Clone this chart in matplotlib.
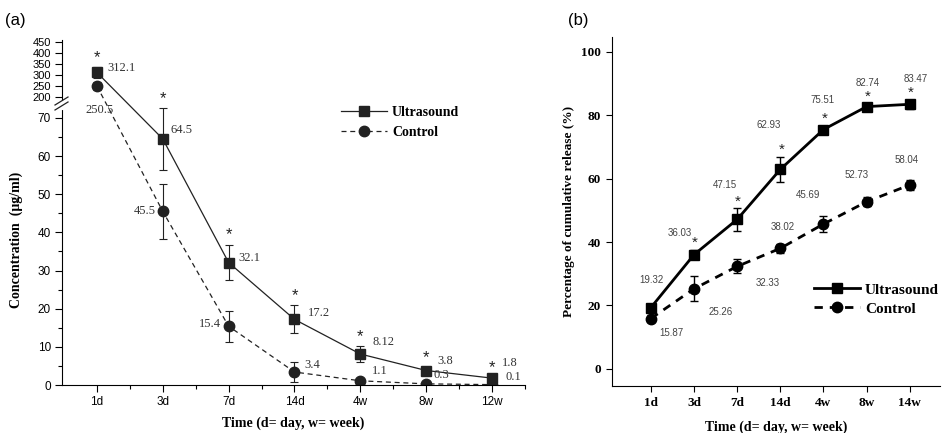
import matplotlib
matplotlib.use("Agg")
import numpy as np
import matplotlib.pyplot as plt
from matplotlib.lines import Line2D

# --- DATA ---
# panel (a): concentration over time
times_a = ["1d", "3d", "7d", "14d", "4w", "8w", "12w"]
us_conc = [312.1, 64.5, 32.1, 17.2, 8.12, 3.8, 1.8]
us_conc_err = [25, 8.2, 4.7, 3.7, 2.0, 0.8, 0.3]
ctl_conc = [250.5, 45.5, 15.4, 3.4, 1.1, 0.3, 0.1]
ctl_conc_err = [20, 7.3, 4.0, 2.6, 0.6, 0.3, 0.2]
us_conc_labels = ["312.1", "64.5", "32.1", "17.2", "8.12", "3.8", "1.8"]
ctl_conc_labels = ["250.5", "45.5", "15.4", "3.4", "1.1", "0.3", "0.1"]

# panel (b): cumulative release
times_b = ["1d", "3d", "7d", "14d", "4w", "8w", "14w"]
us_rel = [19.32, 36.03, 47.15, 62.93, 75.51, 82.74, 83.47]
us_rel_err = [1.0, 1.5, 3.5, 4.0, 1.2, 0.8, 1.5]
ctl_rel = [15.87, 25.26, 32.33, 38.02, 45.69, 52.73, 58.04]
ctl_rel_err = [1.0, 4.0, 2.2, 1.5, 2.5, 1.5, 1.5]
us_star_b = [False, True, True, True, True, True, True]

# label offsets in pixels (layout only)
us_a_off = [(10, 4), (8, 9), (10, 5), (13, 6), (12, 12), (11, 10), (10, 15)]
ctl_a_off = [(3, -24), (-7, 0), (-8, 2), (10, 7), (12, 10), (7, 9), (13, 8)]
ctl_a_ha = ["center", "right", "right", "left", "left", "left", "left"]
us_b_off = [(1, 28), (-14, 22), (-12, 34), (-12, 44), (-1, 30), (1, 24), (6, 25)]
ctl_b_off = [(21, -14), (27, -23), (31, -17), (2, 21), (-15, 29), (-10, 27), (-3, 25)]

serif = "Liberation Serif"
sans = "Liberation Sans"
gray = "#333333"

# broken y scale for panel (a): 0-72.6 linear, gap, then 173-460 compressed
LO_TOP, HI_BOT, GAP, K = 72.6, 173.0, 1.31, 0.05754


def fwd(y):
    y = np.asarray(y, dtype=float)
    mid = LO_TOP + (y - LO_TOP) * GAP / (HI_BOT - LO_TOP)
    hi = LO_TOP + GAP + (y - HI_BOT) * K
    return np.where(y <= LO_TOP, y, np.where(y >= HI_BOT, hi, mid))


def inv(t):
    t = np.asarray(t, dtype=float)
    mid = LO_TOP + (t - LO_TOP) * (HI_BOT - LO_TOP) / GAP
    hi = HI_BOT + (t - LO_TOP - GAP) / K
    return np.where(t <= LO_TOP, t, np.where(t >= LO_TOP + GAP, hi, mid))


fig = plt.figure(figsize=(9.42, 4.33), dpi=100)

# ---------------- panel (a) ----------------
xa = list(range(len(times_a)))
axa = fig.add_axes([62 / 942, 1 - 385 / 433, 463 / 942, 345 / 433])
axa.set_yscale("function", functions=(fwd, inv))
line_kw = dict(color="#222222", lw=0.9, ms=7.5)
axa.plot(xa, us_conc, marker="s", label="Ultrasound", **line_kw)
axa.plot(xa, ctl_conc, marker="o", ls=(0, (4, 3)), label="Control", **line_kw)
for vals, errs in ((us_conc, us_conc_err), (ctl_conc, ctl_conc_err)):
    axa.errorbar(xa, vals, yerr=errs, fmt="none", ecolor="#222222",
                 elinewidth=0.8, capsize=3, capthick=0.8)
axa.spines["top"].set_visible(False)
axa.spines["right"].set_visible(False)
axa.set_xlim(-0.53, 6.5)
axa.set_ylim(0, 460)
axa.set_yticks([0, 10, 20, 30, 40, 50, 60, 70, 200, 250, 300, 350, 400, 450])
axa.set_yticks([5, 15, 25, 35, 45, 55, 65], minor=True)
axa.set_xticks(xa)
axa.set_xticklabels(times_a)
axa.set_xticks([x + 0.5 for x in xa], minor=True)
axa.tick_params(axis="both", which="major", length=5, width=0.8,
                labelsize=8.5, pad=3)
axa.tick_params(axis="both", which="minor", length=3, width=0.8)
for lab in axa.get_xticklabels() + axa.get_yticklabels():
    lab.set_fontfamily(sans)
for lab in axa.get_yticklabels()[8:]:
    lab.set_fontsize(8)

# gap in the spine and break marks (pixels converted to axes fraction)
gap_lo, gap_hi = (385 - 108) / 345, (385 - 103) / 345
axa.add_line(Line2D([0, 0], [gap_lo, gap_hi], transform=axa.transAxes,
                    color="white", lw=3, clip_on=False, zorder=5))
for dy in (0, 5):
    axa.add_line(Line2D([-7 / 463, 6 / 463],
                        [(385 - 110 + dy) / 345, (385 - 102 + dy) / 345],
                        transform=axa.transAxes, color="#222222", lw=0.9,
                        clip_on=False, zorder=6))

axa.set_xlabel("Time (d= day, w= week)", fontfamily=serif,
               fontweight="bold", fontsize=10, labelpad=6)
axa.set_ylabel("Concentration  (\u03bcg/ml)", fontfamily=serif,
               fontweight="bold", fontsize=10)
axa.yaxis.set_label_coords(-0.085, 0.42)

# value labels and stars
for i in xa:
    axa.annotate(us_conc_labels[i], (i, us_conc[i]), xytext=us_a_off[i],
                 textcoords="offset pixels", ha="left", va="center",
                 fontfamily=serif, fontsize=9, color=gray)
    axa.annotate(ctl_conc_labels[i], (i, ctl_conc[i]), xytext=ctl_a_off[i],
                 textcoords="offset pixels", ha=ctl_a_ha[i], va="center",
                 fontfamily=serif, fontsize=9, color=gray)
    axa.annotate("*", (i, us_conc[i] + us_conc_err[i]), xytext=(0, 2),
                 textcoords="offset pixels", ha="center", va="bottom",
                 fontfamily=sans, fontsize=12, color="#222222")

axa.legend(loc="upper left", bbox_to_anchor=(0.575, 0.845), frameon=False,
           prop={"family": serif, "weight": "bold", "size": 10},
           handlelength=3.3, handletextpad=0.4, labelspacing=0.5)

# ---------------- panel (b) ----------------
xb = list(range(len(times_b)))
axb = fig.add_axes([612 / 942, 1 - 386 / 433, 328 / 942, 349 / 433])
axb.plot(xb, us_rel, color="black", lw=2, marker="s", ms=7.5, label="Ultrasound")
axb.plot(xb, ctl_rel, color="black", lw=2, ls=(0, (3, 2.5)), marker="o",
         ms=7.5, label="Control")
for vals, errs in ((us_rel, us_rel_err), (ctl_rel, ctl_rel_err)):
    axb.errorbar(xb, vals, yerr=errs, fmt="none", ecolor="black",
                 elinewidth=1, capsize=3, capthick=1)
axb.spines["top"].set_visible(False)
axb.spines["right"].set_visible(False)
axb.set_xlim(-0.9, 6.7)
axb.set_ylim(-5.4, 104.7)
axb.set_yticks([0, 20, 40, 60, 80, 100])
axb.set_xticks(xb)
axb.set_xticklabels(times_b)
axb.tick_params(axis="both", length=4, width=0.8, labelsize=9.5, pad=4)
for lab in axb.get_xticklabels() + axb.get_yticklabels():
    lab.set_fontfamily(serif)
    lab.set_fontweight("bold")
axb.set_xlabel("Time (d= day, w= week)", fontfamily=serif,
               fontweight="bold", fontsize=10, labelpad=8)
axb.set_ylabel("Percentage of cumulative release (%)", fontfamily=serif,
               fontweight="bold", fontsize=9.5)
axb.yaxis.set_label_coords(-0.112, 0.5)

for i in xb:
    axb.annotate(f"{us_rel[i]:.2f}", (i, us_rel[i]), xytext=us_b_off[i],
                 textcoords="offset pixels", ha="center", va="center",
                 fontfamily=sans, fontsize=7, color="#444444")
    axb.annotate(f"{ctl_rel[i]:.2f}", (i, ctl_rel[i]), xytext=ctl_b_off[i],
                 textcoords="offset pixels", ha="center", va="center",
                 fontfamily=sans, fontsize=7, color="#444444")
    if us_star_b[i]:
        axb.annotate("*", (i, us_rel[i] + us_rel_err[i]), xytext=(1, 0),
                     textcoords="offset pixels", ha="center", va="bottom",
                     fontfamily=sans, fontsize=11, color="#222222")

axb.legend(loc="upper left", bbox_to_anchor=(0.575, 0.335), frameon=False,
           prop={"family": serif, "weight": "bold", "size": 11},
           handlelength=3.0, handletextpad=0.3, labelspacing=0.35)

fig.text(5 / 942, 1 - 20 / 433, "(a)", fontfamily=sans, fontsize=12,
         va="center", ha="left")
fig.text(568 / 942, 1 - 20 / 433, "(b)", fontfamily=sans, fontsize=12,
         va="center", ha="left")

fig.savefig("out.png", dpi=100)
